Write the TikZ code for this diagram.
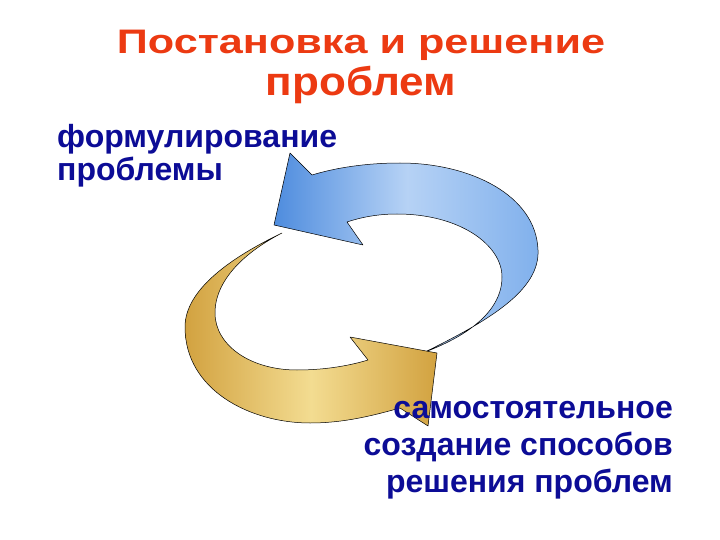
\documentclass[tikz,border=0pt]{standalone}
\usepackage{fontspec}
\usepackage{graphicx}
\setmainfont{Liberation Sans}
\usetikzlibrary{shadings}
\definecolor{titlered}{RGB}{236,58,18}
\definecolor{txtblue}{RGB}{12,12,150}
\definecolor{bdark}{RGB}{78,140,222}
\definecolor{blight}{RGB}{182,210,245}
\definecolor{bmid}{RGB}{128,176,236}
\definecolor{gdark}{RGB}{210,162,64}
\definecolor{glight}{RGB}{243,220,145}
\tikzset{
  titletxt/.style={anchor=base,inner sep=0pt,text=titlered,font=\bfseries},
  bluetxt/.style={inner sep=0pt,text=txtblue,font=\bfseries\fontsize{32}{34}\selectfont},
  arrowline/.style={draw=black,line width=0.5pt,line join=round}
}
\begin{document}
\begin{tikzpicture}[x=1pt,y=-1pt]
\useasboundingbox[fill=white] (0,0) rectangle (720,540);
% blue arrow
\path[arrowline,left color=bdark,right color=bmid,middle color=blight]
  (425,352) .. controls (490,320) and (540,290) .. (538,250)
  .. controls (536,195) and (470,163) .. (400,163)
  .. controls (365,163) and (335,168) .. (312,175)
  -- (290,153) -- (274,225) -- (363,245) -- (347,222)
  .. controls (365,216) and (382,214) .. (397,214)
  .. controls (460,214) and (502,245) .. (502,277)
  .. controls (502,310) and (470,335) .. (425,352) -- cycle;
% gold arrow
\path[arrowline,left color=gdark,right color=gdark,middle color=glight]
  (282,233) .. controls (230,258) and (185,290) .. (185,327)
  .. controls (185,390) and (250,423) .. (310,423)
  .. controls (345,423) and (375,415) .. (400,408)
  -- (428,426) -- (437,353) -- (350,337) -- (368,360)
  .. controls (345,367) and (320,370) .. (297,370)
  .. controls (250,370) and (215,345) .. (215,313)
  .. controls (215,280) and (245,252) .. (282,233) -- cycle;
% texts
\node[titletxt] (t1) at (361,54) {\fontsize{34}{36}\selectfont\scalebox{1.27}[1]{Постановка и решение}};
\node[titletxt] (t2) at (361,96) {\fontsize{40}{42}\selectfont\scalebox{1.1}[1]{проблем}};
\node[bluetxt,anchor=base west] (a1) at (57,148) {формулирование};
\node[bluetxt,anchor=base west] (a2) at (57,181) {проблемы};
\node[bluetxt,anchor=base east] (b1) at (673,418) {самостоятельное};
\node[bluetxt,anchor=base east] (b2) at (673,455) {создание способов};
\node[bluetxt,anchor=base east] (b3) at (673,492) {решения проблем};
\end{tikzpicture}
\end{document}
